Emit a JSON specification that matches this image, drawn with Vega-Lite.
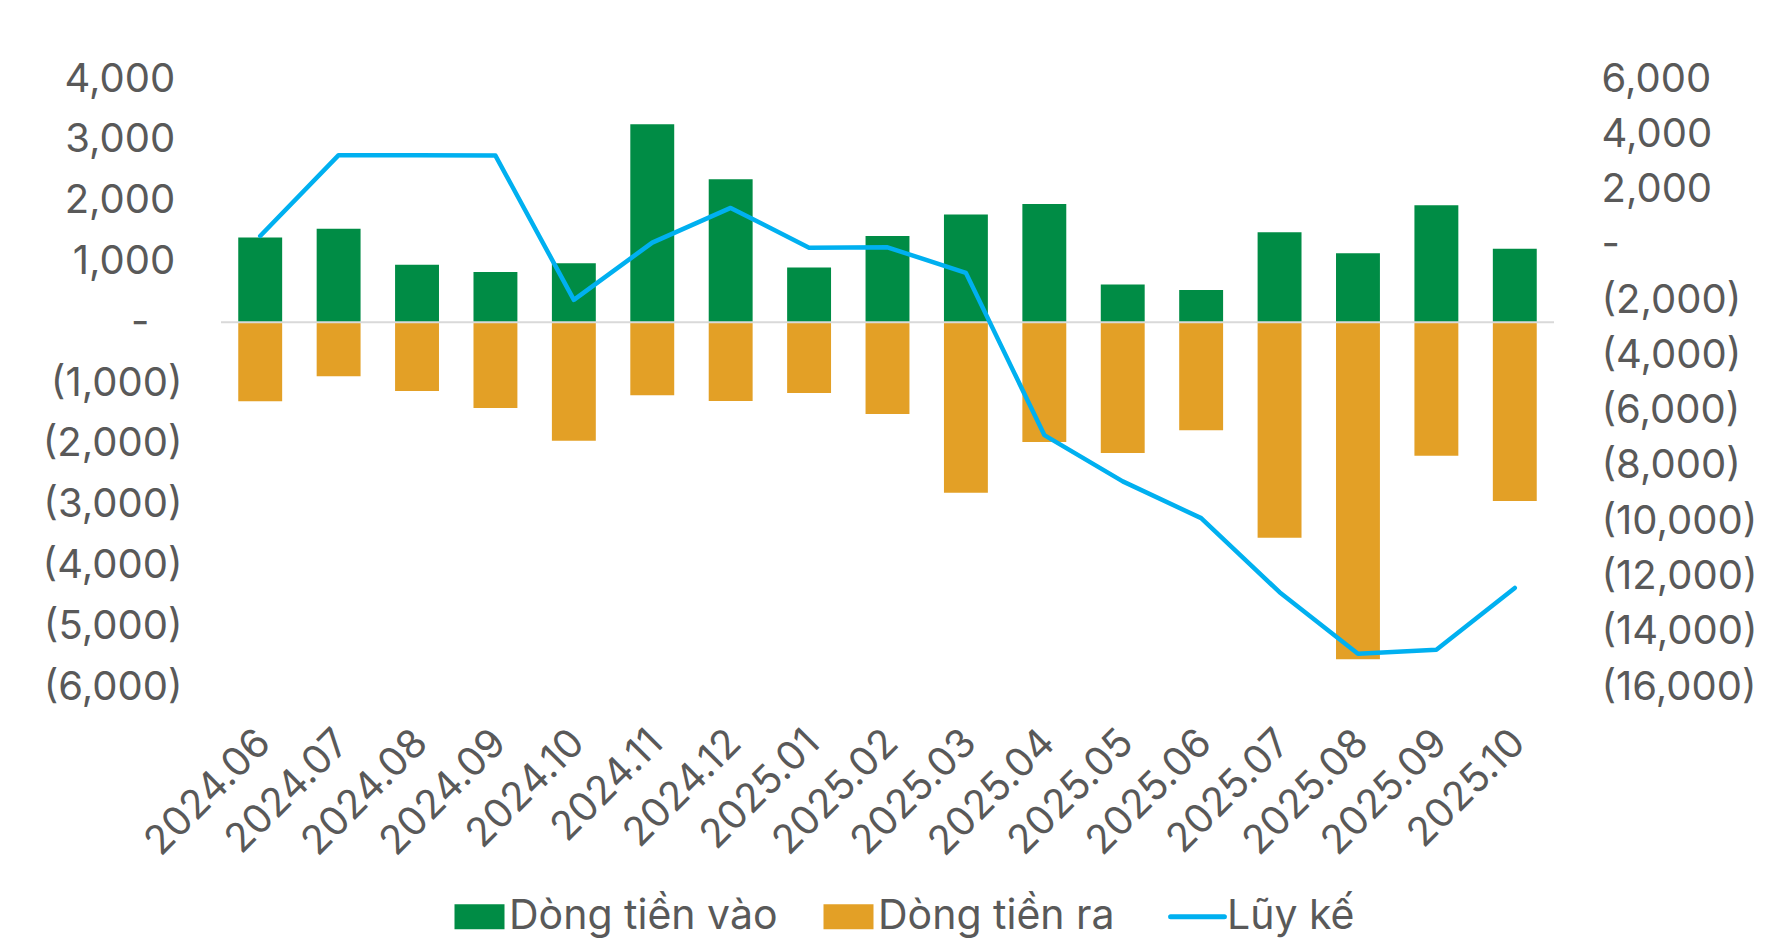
{
  "$schema": "https://vega.github.io/schema/vega-lite/v6.json",
  "width": 1333,
  "height": 608,
  "autosize": "none",
  "padding": {"left": 221, "top": 79, "right": 218, "bottom": 255},
  "background": "white",
  "config": {"view": {"stroke": null}, "font": "Inter"},
  "data": {"values": [
    {"m": "2024.06", "s": "Dòng tiền vào", "v": 1395}, {"m": "2024.06", "s": "Dòng tiền ra", "v": -1300}, {"m": "2024.06", "s": "Lũy kế", "v": 320},
    {"m": "2024.07", "s": "Dòng tiền vào", "v": 1535}, {"m": "2024.07", "s": "Dòng tiền ra", "v": -890}, {"m": "2024.07", "s": "Lũy kế", "v": 3245},
    {"m": "2024.08", "s": "Dòng tiền vào", "v": 945}, {"m": "2024.08", "s": "Dòng tiền ra", "v": -1130}, {"m": "2024.08", "s": "Lũy kế", "v": 3245},
    {"m": "2024.09", "s": "Dòng tiền vào", "v": 825}, {"m": "2024.09", "s": "Dòng tiền ra", "v": -1410}, {"m": "2024.09", "s": "Lũy kế", "v": 3230},
    {"m": "2024.10", "s": "Dòng tiền vào", "v": 970}, {"m": "2024.10", "s": "Dòng tiền ra", "v": -1950}, {"m": "2024.10", "s": "Lũy kế", "v": -1990},
    {"m": "2024.11", "s": "Dòng tiền vào", "v": 3255}, {"m": "2024.11", "s": "Dòng tiền ra", "v": -1200}, {"m": "2024.11", "s": "Lũy kế", "v": 80},
    {"m": "2024.12", "s": "Dòng tiền vào", "v": 2350}, {"m": "2024.12", "s": "Dòng tiền ra", "v": -1295}, {"m": "2024.12", "s": "Lũy kế", "v": 1335},
    {"m": "2025.01", "s": "Dòng tiền vào", "v": 900}, {"m": "2025.01", "s": "Dòng tiền ra", "v": -1165}, {"m": "2025.01", "s": "Lũy kế", "v": -105},
    {"m": "2025.02", "s": "Dòng tiền vào", "v": 1418}, {"m": "2025.02", "s": "Dòng tiền ra", "v": -1510}, {"m": "2025.02", "s": "Lũy kế", "v": -90},
    {"m": "2025.03", "s": "Dòng tiền vào", "v": 1770}, {"m": "2025.03", "s": "Dòng tiền ra", "v": -2805}, {"m": "2025.03", "s": "Lũy kế", "v": -1015},
    {"m": "2025.04", "s": "Dòng tiền vào", "v": 1945}, {"m": "2025.04", "s": "Dòng tiền ra", "v": -1970}, {"m": "2025.04", "s": "Lũy kế", "v": -6885},
    {"m": "2025.05", "s": "Dòng tiền vào", "v": 620}, {"m": "2025.05", "s": "Dòng tiền ra", "v": -2150}, {"m": "2025.05", "s": "Lũy kế", "v": -8560},
    {"m": "2025.06", "s": "Dòng tiền vào", "v": 528}, {"m": "2025.06", "s": "Dòng tiền ra", "v": -1778}, {"m": "2025.06", "s": "Lũy kế", "v": -9890},
    {"m": "2025.07", "s": "Dòng tiền vào", "v": 1480}, {"m": "2025.07", "s": "Dòng tiền ra", "v": -3545}, {"m": "2025.07", "s": "Lũy kế", "v": -12570},
    {"m": "2025.08", "s": "Dòng tiền vào", "v": 1134}, {"m": "2025.08", "s": "Dòng tiền ra", "v": -5545}, {"m": "2025.08", "s": "Lũy kế", "v": -14795},
    {"m": "2025.09", "s": "Dòng tiền vào", "v": 1925}, {"m": "2025.09", "s": "Dòng tiền ra", "v": -2195}, {"m": "2025.09", "s": "Lũy kế", "v": -14655},
    {"m": "2025.10", "s": "Dòng tiền vào", "v": 1210}, {"m": "2025.10", "s": "Dòng tiền ra", "v": -2940}, {"m": "2025.10", "s": "Lũy kế", "v": -12415}
  ]},
  "layer": [
    {
      "layer": [
        {
          "transform": [{"filter": "datum.s !== 'Lũy kế'"}],
          "mark": {"type": "bar"},
          "encoding": {
            "x": {"field": "m", "type": "ordinal", "sort": null,
              "scale": {"paddingInner": 0.44, "paddingOuter": 0.22},
              "axis": {"title": null, "domain": false, "ticks": false, "grid": false, "labelAngle": -45, "labelAlign": "right", "labelBaseline": "top", "labelPadding": 35, "labelOffset": -10, "labelFont": "Inter", "labelFontSize": 40, "labelColor": "#595959"}},
            "y": {"field": "v", "type": "quantitative", "stack": null,
              "scale": {"domain": [-6000, 4000], "nice": false, "zero": false},
              "axis": {"title": null, "domain": false, "ticks": false, "grid": false, "labelFlush": false,
                "values": [-6000, -5000, -4000, -3000, -2000, -1000, 0, 1000, 2000, 3000, 4000],
                "labelExpr": "datum.value === 0 ? '-\u2007\u2009\u2060' : (datum.value < 0 ? '(' + format(-datum.value, ',') + ')' : format(datum.value, ',') + '\u2009\u2060')",
                "labelPadding": 39, "labelFont": "Inter", "labelFontSize": 40, "labelColor": "#595959"}},
            "color": {"field": "s", "type": "nominal",
              "scale": {"domain": ["Dòng tiền vào", "Dòng tiền ra", "Lũy kế"], "range": ["#008C45", "#E3A026", "#00B0F0"]},
              "legend": {"title": null, "orient": "none", "legendX": 238, "legendY": 817, "direction": "horizontal", "padding": 0,
                "labelFont": "Inter", "labelFontSize": 41, "labelColor": "#595959", "labelLimit": 0,
                "symbolSize": 2500, "labelOffset": 9, "columnPadding": 45, "symbolType": "M-1,-0.5H1V0.5H-1Z",
                "encode": {"symbols": {"update": {
                  "shape": {"signal": "datum.value === 'Lũy kế' ? 'stroke' : 'M-1,-0.5H1V0.5H-1Z'"},
                  "size": {"signal": "datum.value === 'Lũy kế' ? 2900 : 2500"},
                  "strokeWidth": {"signal": "datum.value === 'Lũy kế' ? 5 : 0"},
                  "strokeCap": {"value": "round"},
                  "stroke": {"signal": "scale('color', datum.value)"},
                  "fill": {"signal": "datum.value === 'Lũy kế' ? 'transparent' : scale('color', datum.value)"},
                  "opacity": {"value": 1}
                }}}}}
          }
        },
        {
          "data": {"values": [{}]},
          "mark": {"type": "rule", "color": "#D9D9D9", "strokeWidth": 2},
          "encoding": {"y": {"datum": 0}}
        }
      ]
    },
    {
      "transform": [{"filter": "datum.s === 'Lũy kế'"}],
      "mark": {"type": "line", "strokeWidth": 4.5, "strokeJoin": "round", "strokeCap": "round"},
      "encoding": {
        "x": {"field": "m", "type": "ordinal", "sort": null,
          "axis": {"title": null, "domain": false, "ticks": false, "grid": false, "labelAngle": -45, "labelAlign": "right", "labelBaseline": "top", "labelPadding": 35, "labelOffset": -10, "labelFont": "Inter", "labelFontSize": 40, "labelColor": "#595959"}},
        "y": {"field": "v", "type": "quantitative",
          "scale": {"domain": [-16000, 6000], "nice": false, "zero": false},
          "axis": {"orient": "right", "title": null, "domain": false, "ticks": false, "grid": false, "labelFlush": false,
            "values": [-16000, -14000, -12000, -10000, -8000, -6000, -4000, -2000, 0, 2000, 4000, 6000],
            "labelExpr": "datum.value === 0 ? '-' : (datum.value < 0 ? '(' + format(-datum.value, ',') + ')' : format(datum.value, ','))",
            "labelPadding": 47, "labelFont": "Inter", "labelFontSize": 40, "labelColor": "#595959"}},
        "color": {"field": "s", "type": "nominal"}
      }
    }
  ],
  "resolve": {"scale": {"y": "independent"}}
}
